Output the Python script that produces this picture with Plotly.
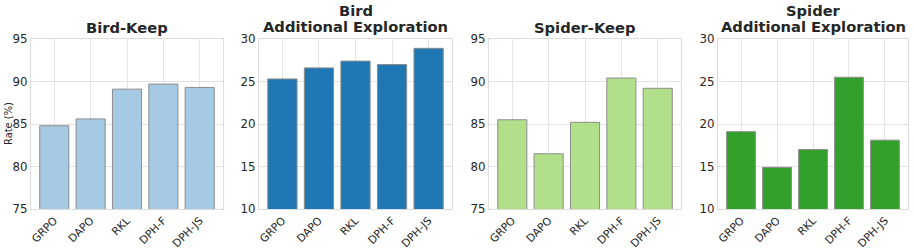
import plotly.graph_objects as go

categories = ["GRPO", "DAPO", "RKL", "DPH-F", "DPH-JS"]
bird_keep = [84.8, 85.6, 89.1, 89.7, 89.3]
bird_explore = [25.3, 26.6, 27.4, 27.0, 28.9]
spider_keep = [85.5, 81.5, 85.2, 90.4, 89.2]
spider_explore = [19.1, 14.9, 17.0, 25.5, 18.1]

titles = [["Bird-Keep"], ["Bird", "Additional Exploration"], ["Spider-Keep"], ["Spider", "Additional Exploration"]]
colors = ["#a6cae3", "#1f78b4", "#b2df8a", "#33a02c"]
yranges = [[75, 95], [10, 30], [75, 95], [10, 30]]
series = [bird_keep, bird_explore, spider_keep, spider_explore]

W, H = 914, 249
xpx = [(31, 223), (259, 452), (489, 681), (718, 908)]
ytop, ybot = 39, 209

fig = go.Figure()
for i, (vals, col) in enumerate(zip(series, colors)):
    n = "" if i == 0 else str(i + 1)
    fig.add_trace(go.Bar(
        x=categories, y=vals, xaxis="x" + n, yaxis="y" + n,
        marker=dict(color=col, line=dict(color="#8c8c8c", width=1)),
        width=0.8, showlegend=False, hoverinfo="skip",
    ))
    dom = [xpx[i][0] / W, xpx[i][1] / W]
    axcommon = dict(showgrid=True, gridcolor="#e3e3e3", gridwidth=1,
                    showline=True, linecolor="#dcdcdc", linewidth=1, mirror=True,
                    ticks="", zeroline=False, automargin=False)
    fig.layout["xaxis" + n] = dict(axcommon, domain=dom, anchor="y" + n,
                                   range=[-0.64, 4.64], tickangle=-45, type="category",
                                   tickfont=dict(family="DejaVu Sans", size=10.8, color="#262626"))
    fig.layout["yaxis" + n] = dict(axcommon, domain=[1 - ybot / H, 1 - ytop / H],
                                   anchor="x" + n, range=yranges[i], dtick=5,
                                   tickfont=dict(family="DejaVu Sans", size=11.8, color="#262626"))
    lines = titles[i]
    centers = [28] if len(lines) == 1 else [10, 26.5]
    for txt, cy in zip(lines, centers):
        fig.add_annotation(
            text="<b>" + txt + "</b>", xref="paper", yref="paper",
            x=(dom[0] + dom[1]) / 2, y=1 - cy / H, xanchor="center", yanchor="middle",
            showarrow=False, font=dict(family="DejaVu Sans", size=14.7, color="#262626"),
        )

fig.add_annotation(text="Rate (%)", xref="paper", yref="paper", x=8 / W,
                   y=1 - 124 / H, textangle=-90, showarrow=False,
                   xanchor="center", yanchor="middle",
                   font=dict(family="DejaVu Sans", size=9.9, color="#262626"))

fig.update_layout(width=W, height=H, margin=dict(l=0, r=0, t=0, b=0),
                  paper_bgcolor="white", plot_bgcolor="white", bargap=0.2,
                  template="none")
fig.write_html("out.html", config={"displayModeBar": False},
               post_script="document.body.style.margin='0';document.body.style.padding='0';")
